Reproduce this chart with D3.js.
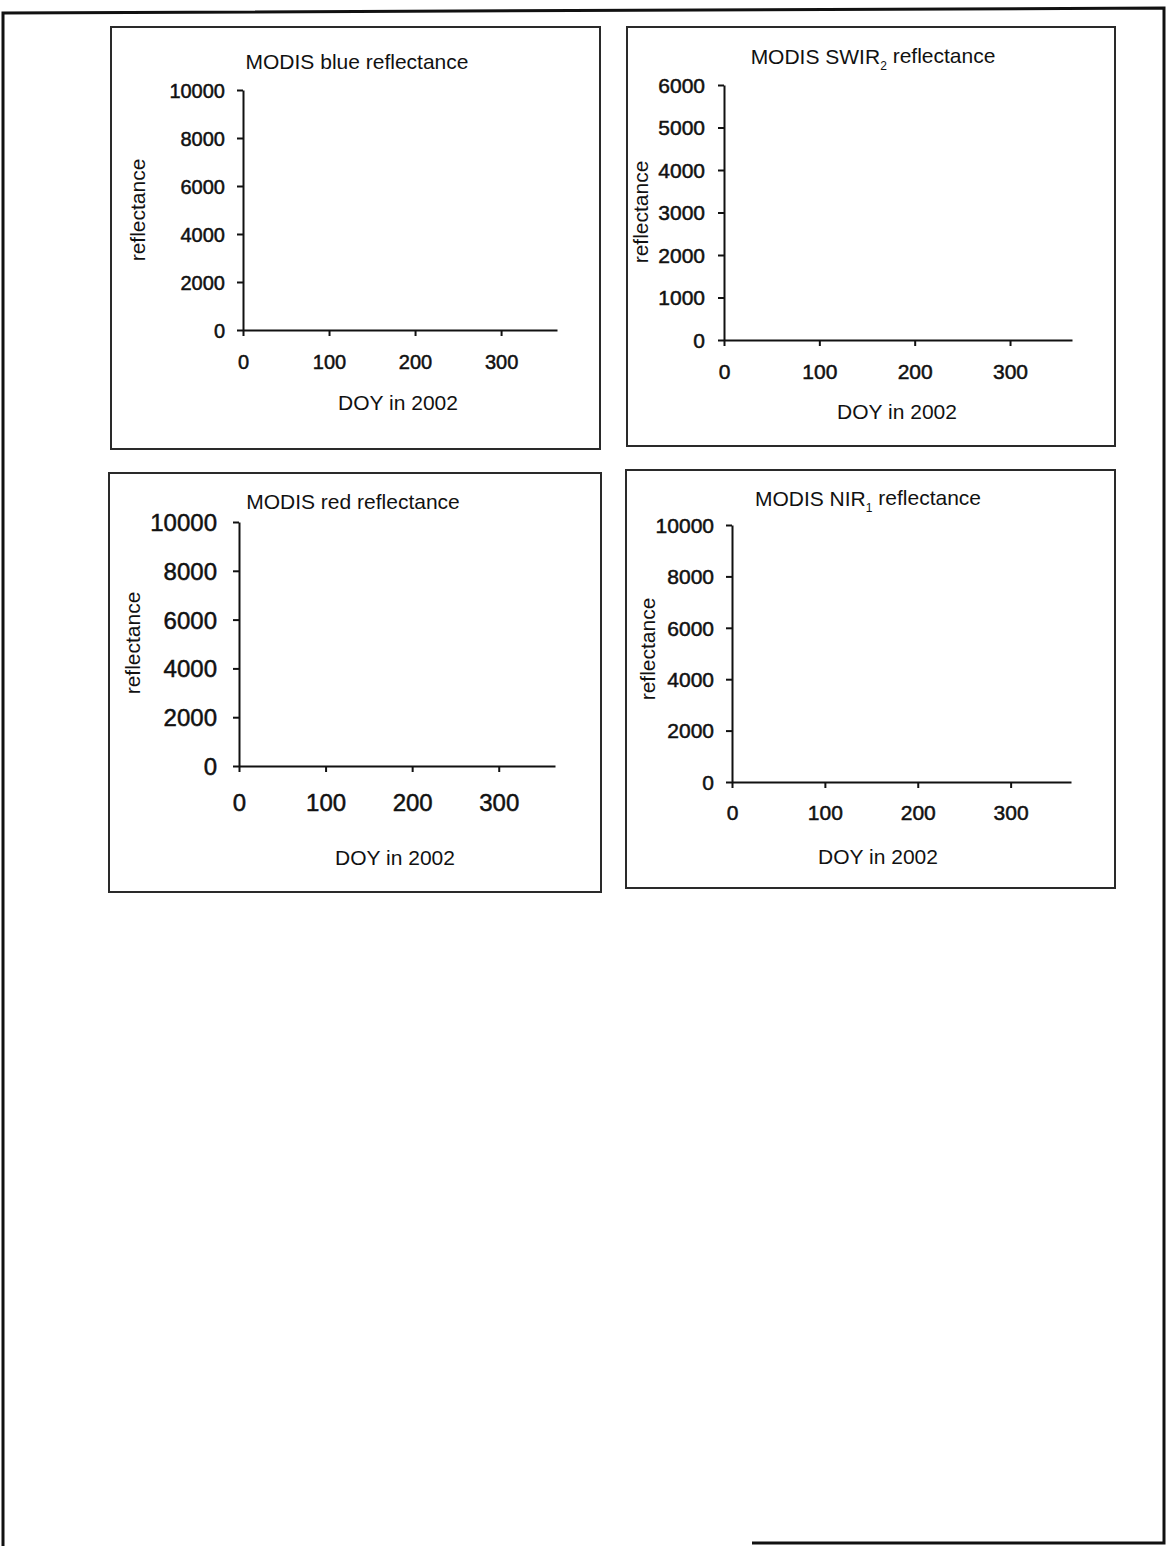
<!DOCTYPE html>
<html>
<head>
<meta charset="utf-8">
<script src="https://cdn.jsdelivr.net/npm/d3@7/dist/d3.min.js"></script>
<style>
  html, body { margin: 0; padding: 0; background: #fff; }
  svg { display: block; font-family: "Liberation Sans", Arial, sans-serif; }
  .tick text { fill: #111; }
</style>
</head>
<body>
<svg id="page" width="1168" height="1546"></svg>
<script>
// chart content
const titleMain = ["MODIS blue reflectance", "MODIS SWIR", "MODIS red reflectance", "MODIS NIR"];
const titleSub = ["", "2", "", "1"];
const titleTail = ["", " reflectance", "", " reflectance"];
const yMax = [10000, 6000, 10000, 10000];
const yTickValues = [
  [0, 2000, 4000, 6000, 8000, 10000],
  [0, 1000, 2000, 3000, 4000, 5000, 6000],
  [0, 2000, 4000, 6000, 8000, 10000],
  [0, 2000, 4000, 6000, 8000, 10000]
];
const xMax = 365;
const xTickValues = [0, 100, 200, 300];
const xTitle = "DOY in 2002";
const yTitle = "reflectance";

// where each panel sits on the scanned page
const layout = [
  {box: [111, 27, 600, 449], x0: 243, x1: 557, y0: 330, y1: 90, labRight: 225, xLabY: 362, title: [357, 62], xt: [398, 403], yt: [138, 210], fs: 20},
  {box: [627, 27, 1115, 446], x0: 724, x1: 1072, y0: 340, y1: 85, labRight: 705, xLabY: 372, title: [873, 57], xt: [897, 412], yt: [641, 212], fs: 21},
  {box: [109, 473, 601, 892], x0: 239, x1: 555, y0: 766, y1: 522, labRight: 217, xLabY: 803, title: [353, 502], xt: [395, 858], yt: [133, 643], fs: 24},
  {box: [626, 470, 1115, 888], x0: 732, x1: 1071, y0: 782, y1: 525, labRight: 714, xLabY: 813, title: [868, 499], xt: [878, 857], yt: [648, 649], fs: 21}
];

const svg = d3.select("#page");

// outer page frame (bottom edge only survives on the right in the scan)
const frame = svg.append("g").attr("fill", "none").attr("stroke", "#111").attr("stroke-width", 3);
frame.append("path").attr("d", "M3,1546 L3,13 L1164,8 L1164,1543 L752,1543");

layout.forEach((L, i) => {
  const g = svg.append("g");

  g.append("rect")
    .attr("x", L.box[0]).attr("y", L.box[1])
    .attr("width", L.box[2] - L.box[0]).attr("height", L.box[3] - L.box[1])
    .attr("fill", "none").attr("stroke", "#2a2a2a").attr("stroke-width", 2);

  const x = d3.scaleLinear().domain([0, xMax]).range([L.x0, L.x1]);
  const y = d3.scaleLinear().domain([0, yMax[i]]).range([L.y0, L.y1]);

  const yAxis = g.append("g")
    .attr("transform", `translate(${L.x0},0)`)
    .call(d3.axisLeft(y).tickValues(yTickValues[i]).tickFormat(d3.format("d"))
      .tickSize(6).tickSizeOuter(0).tickPadding(L.x0 - L.labRight - 6));
  const xAxis = g.append("g")
    .attr("transform", `translate(0,${L.y0})`)
    .call(d3.axisBottom(x).tickValues(xTickValues).tickFormat(d3.format("d"))
      .tickSize(6).tickSizeOuter(0).tickPadding(0));

  [yAxis, xAxis].forEach(a => {
    a.select(".domain").attr("stroke", "#111").attr("stroke-width", 2);
    a.selectAll(".tick line").attr("stroke", "#111").attr("stroke-width", 2);
    // scanned numbers print heavy; a thin stroke thickens them without widening
    a.selectAll(".tick text").attr("font-size", L.fs)
      .attr("font-family", "Liberation Sans, Arial, sans-serif")
      .attr("stroke", "#111").attr("stroke-width", 0.5);
  });
  yAxis.selectAll(".tick text").attr("dy", "0.35em");
  xAxis.selectAll(".tick text")
    .attr("y", L.xLabY - L.y0).attr("dy", "0.35em");

  // panel title
  const t = g.append("text")
    .attr("x", L.title[0]).attr("y", L.title[1]).attr("dy", "0.35em")
    .attr("text-anchor", "middle").attr("font-size", 21).attr("fill", "#111");
  t.append("tspan").text(titleMain[i]);
  if (titleSub[i]) {
    t.append("tspan").attr("font-size", 12).attr("dy", "0.45em").text(titleSub[i]);
    t.append("tspan").attr("dy", "-0.3em").text(titleTail[i]);
  }

  g.append("text")
    .attr("x", L.xt[0]).attr("y", L.xt[1]).attr("dy", "0.35em")
    .attr("text-anchor", "middle").attr("font-size", 21).attr("fill", "#111")
    .text(xTitle);

  g.append("text")
    .attr("transform", `translate(${L.yt[0]},${L.yt[1]}) rotate(-90)`)
    .attr("dy", "0.35em")
    .attr("text-anchor", "middle").attr("font-size", 21).attr("fill", "#111")
    .text(yTitle);
});
</script>
</body>
</html>
